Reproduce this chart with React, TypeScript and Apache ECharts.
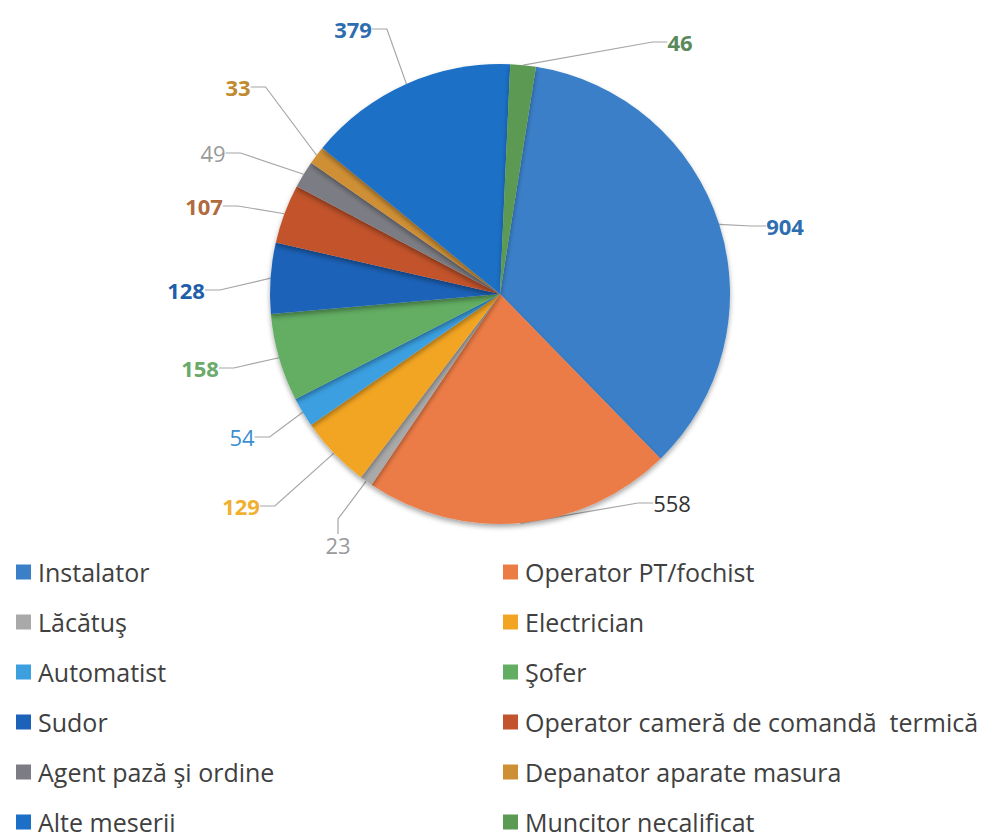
import React, { useEffect, useRef } from "react";
import * as echarts from "echarts";

const categories = [
  "Instalator",
  "Operator PT/fochist",
  "Lăcătuş",
  "Electrician",
  "Automatist",
  "Şofer",
  "Sudor",
  "Operator cameră de comandă  termică",
  "Agent pază şi ordine",
  "Depanator aparate masura",
  "Alte meserii",
  "Muncitor necalificat",
];

const values = [904, 558, 23, 129, 54, 158, 128, 107, 49, 33, 379, 46];

const sliceColors = [
  "#3a7fc8",
  "#ec7c46",
  "#a9a9a9",
  "#f2a523",
  "#3b9fe0",
  "#63ae63",
  "#1c62b8",
  "#c2532c",
  "#7c7c84",
  "#cf9035",
  "#1b6fc6",
  "#5b9a52",
];

const labelColors = [
  "#2f6eaf",
  "#333333",
  "#9a9a9a",
  "#f0b030",
  "#3a8fd0",
  "#6aaa6a",
  "#1f5ea8",
  "#b06a40",
  "#999999",
  "#c08a30",
  "#2e6db0",
  "#5a8a5a",
];

const labelBold = [true, false, false, true, false, true, true, true, false, true, true, true];

// label centre positions in page pixels (layout only)
const labelPos: [number, number][] = [
  [785, 226],
  [672, 503],
  [338, 545],
  [241, 506],
  [242, 437],
  [200, 368],
  [186, 290],
  [204, 206],
  [213, 153],
  [238, 87],
  [353, 29],
  [680, 42],
];

const OFF = 8; // body margin

export default function App() {
  const ref = useRef<HTMLDivElement>(null);
  useEffect(() => {
    if (!ref.current) return;
    const chart = echarts.init(ref.current, undefined, { renderer: "svg" });
    const font = "'Open Sans', sans-serif";
    const data = categories.map((name, i) => ({
      name,
      value: values[i],
      itemStyle: { color: sliceColors[i] },
      label: {
        color: labelColors[i],
        fontWeight: labelBold[i] ? "bold" : "normal",
      },
    }));
    const leftNames = categories.filter((_, i) => i % 2 === 0);
    const rightNames = categories.filter((_, i) => i % 2 === 1);
    const legendBase = {
      orient: "vertical" as const,
      top: 559 - OFF,
      padding: 0,
      icon: "rect",
      itemWidth: 15,
      itemHeight: 15,
      itemGap: 24,
      textStyle: {
        fontFamily: font,
        fontSize: 25,
        lineHeight: 26,
        color: "#404040",
        padding: [0, 0, 0, 2],
      },
      selectedMode: false,
    };
    chart.setOption({
      animation: false,
      backgroundColor: "#ffffff",
      legend: [
        { ...legendBase, left: 16 - OFF, data: leftNames },
        { ...legendBase, left: 503 - OFF, data: rightNames },
      ],
      series: [
        {
          type: "pie",
          center: [500 - OFF, 294 - OFF],
          radius: 230,
          startAngle: 81,
          clockwise: true,
          data,
          itemStyle: {
            shadowColor: "rgba(0,0,0,0.35)",
            shadowBlur: 5,
            shadowOffsetY: 3,
          },
          label: {
            show: true,
            position: "outside",
            formatter: "{c}",
            fontFamily: font,
            fontSize: 22,
          },
          labelLine: {
            show: true,
            length: 15,
            length2: 15,
            lineStyle: { color: "#a6a6a6", width: 1.2 },
          },
          labelLayout: (params: any) => {
            const p = labelPos[params.dataIndex];
            return {
              x: p[0] - OFF,
              y: p[1] - OFF,
              align: "center",
              verticalAlign: "middle",
            };
          },
          emphasis: { disabled: true },
        },
      ],
    });
    return () => chart.dispose();
  }, []);
  return <div ref={ref} style={{ width: 980, height: 832 }} />;
}
